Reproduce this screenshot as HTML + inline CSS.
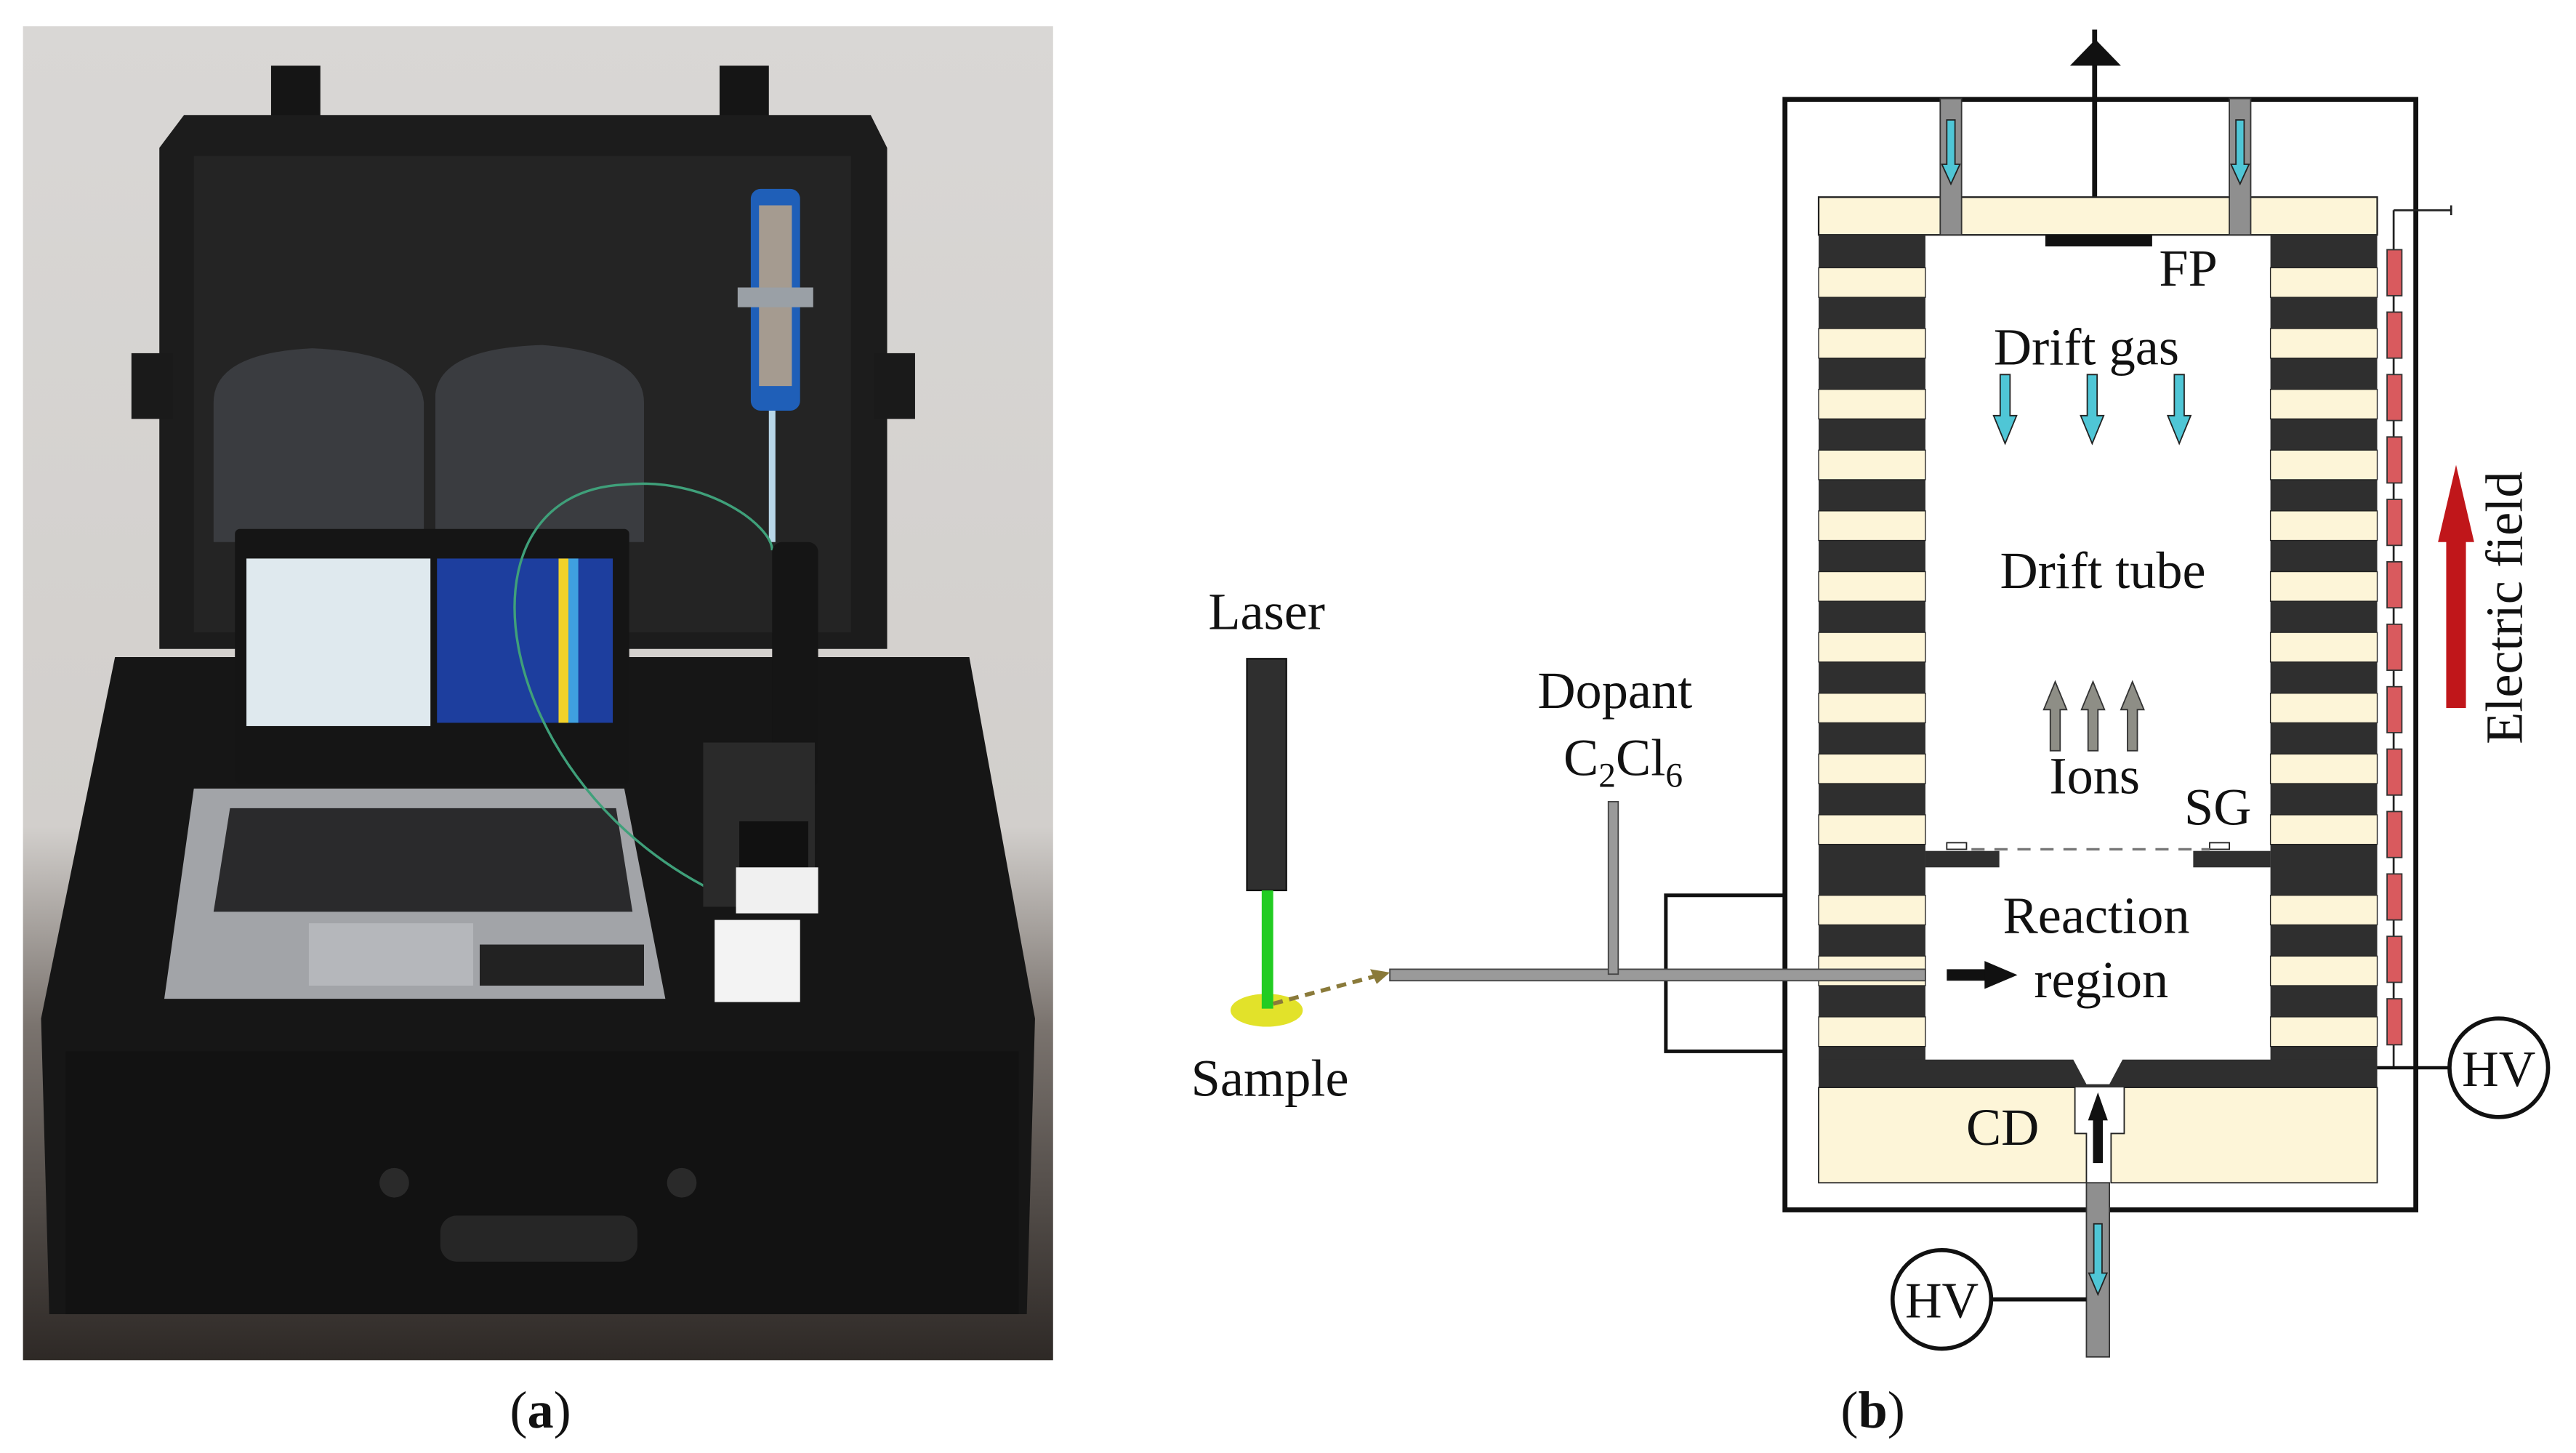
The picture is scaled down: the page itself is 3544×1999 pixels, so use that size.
<!DOCTYPE html>
<html><head><meta charset="utf-8"><style>
html,body{margin:0;padding:0;background:#fff;}
svg{display:block;}
text{font-family:"Liberation Serif",serif;fill:#111;}
</style></head><body>
<svg width="3544" height="1999" viewBox="0 0 1568 884.5" preserveAspectRatio="none" xmlns="http://www.w3.org/2000/svg">
<defs>
<linearGradient id="wall" x1="0" y1="0" x2="0" y2="1">
<stop offset="0" stop-color="#d9d7d5"/><stop offset="0.6" stop-color="#d2cfcc"/><stop offset="0.75" stop-color="#7a736e"/><stop offset="1" stop-color="#2e2926"/>
</linearGradient>
</defs>
<rect x="14" y="16" width="627" height="812" fill="url(#wall)"/>
<rect x="165" y="40" width="30" height="40" fill="#151515"/>
<rect x="438" y="40" width="30" height="40" fill="#151515"/>
<path d="M112 70 L530 70 L540 90 L540 395 L97 395 L97 90 Z" fill="#1c1c1c"/>
<rect x="118" y="95" width="400" height="290" fill="#242424"/>
<rect x="80" y="215" width="25" height="40" fill="#1a1a1a"/>
<rect x="532" y="215" width="25" height="40" fill="#1a1a1a"/>
<path d="M130 245 Q130 215 190 212 Q255 215 258 245 L258 330 L130 330 Z" fill="#3a3c40"/>
<path d="M265 240 Q268 212 330 210 Q392 215 392 245 L392 330 L265 330 Z" fill="#3a3c40"/>
<rect x="457" y="115" width="30" height="135" rx="6" fill="#1f5fb8"/>
<rect x="462" y="125" width="20" height="110" fill="#a59b90"/>
<rect x="449" y="175" width="46" height="12" fill="#9aa0a6"/>
<line x1="470" y1="250" x2="470" y2="330" stroke="#b9d7e8" stroke-width="4"/>
<path d="M70 400 L590 400 L630 620 L625 800 L30 800 L25 620 Z" fill="#161616"/>
<rect x="40" y="640" width="580" height="160" fill="#121212"/>
<rect x="268" y="740" width="120" height="28" rx="10" fill="#262626"/>
<circle cx="240" cy="720" r="9" fill="#2a2a2a"/><circle cx="415" cy="720" r="9" fill="#2a2a2a"/>
<rect x="143" y="322" width="240" height="155" rx="3" fill="#151515"/>
<rect x="150" y="340" width="112" height="102" fill="#dfe9ee"/>
<rect x="266" y="340" width="107" height="100" fill="#1d3e9e"/>
<rect x="340" y="340" width="6" height="100" fill="#f2d22a"/>
<rect x="346" y="340" width="6" height="100" fill="#3fa0e0"/>
<path d="M118 480 L380 480 L405 608 L100 608 Z" fill="#a2a4a8"/>
<path d="M140 492 L375 492 L385 555 L130 555 Z" fill="#2a2a2c"/>
<rect x="188" y="562" width="100" height="38" fill="#b5b7bb"/>
<rect x="292" y="575" width="100" height="25" fill="#222"/>
<path d="M440 545 C300 480 270 300 380 295 C430 290 470 320 470 335" fill="none" stroke="#3fa07a" stroke-width="1.5"/>
<rect x="470" y="330" width="28" height="150" rx="6" fill="#151515"/>
<rect x="428" y="452" width="68" height="100" fill="#2a2a2a"/>
<rect x="450" y="500" width="42" height="40" fill="#111"/>
<rect x="448" y="528" width="50" height="28" fill="#f0f0f0"/>
<rect x="435" y="560" width="52" height="50" fill="#f3f3f3"/>
<text x="329" y="869" font-size="32" text-anchor="middle">(<tspan font-weight="bold">a</tspan>)</text>

<rect x="1086.5" y="60.5" width="384" height="676" fill="none" stroke="#111" stroke-width="3"/>
<line x1="1275" y1="18" x2="1275" y2="143" stroke="#111" stroke-width="3"/>
<polygon points="1260,40 1291,40 1275.5,24" fill="#111"/>
<rect x="1107" y="120" width="340" height="23" fill="#fdf5d8" stroke="#222" stroke-width="1"/>
<rect x="1181" y="60" width="13" height="83" fill="#8f8f8f" stroke="#333" stroke-width="0.8"/>
<rect x="1357" y="60" width="13" height="83" fill="#8f8f8f" stroke="#333" stroke-width="0.8"/>
<g fill="#4fc6d6" stroke="#222" stroke-width="0.8">
<path d="M1185 73 h5 v27 h3 l-5.5 12 l-5.5 -12 h3 z"/>
<path d="M1361 73 h5 v27 h3 l-5.5 12 l-5.5 -12 h3 z"/>
</g>
<rect x="1245" y="143" width="65" height="7" fill="#111"/>
<rect x="1107" y="143" width="65" height="512" fill="#2f2f2f"/>
<rect x="1382" y="143" width="65" height="512" fill="#2f2f2f"/>
<g fill="#fdf5d8" stroke="#222" stroke-width="0.6">
<rect x="1107" y="163" width="65" height="18"/><rect x="1382" y="163" width="65" height="18"/>
<rect x="1107" y="200" width="65" height="18"/><rect x="1382" y="200" width="65" height="18"/>
<rect x="1107" y="237" width="65" height="18"/><rect x="1382" y="237" width="65" height="18"/>
<rect x="1107" y="274" width="65" height="18"/><rect x="1382" y="274" width="65" height="18"/>
<rect x="1107" y="311" width="65" height="18"/><rect x="1382" y="311" width="65" height="18"/>
<rect x="1107" y="348" width="65" height="18"/><rect x="1382" y="348" width="65" height="18"/>
<rect x="1107" y="385" width="65" height="18"/><rect x="1382" y="385" width="65" height="18"/>
<rect x="1107" y="422" width="65" height="18"/><rect x="1382" y="422" width="65" height="18"/>
<rect x="1107" y="459" width="65" height="18"/><rect x="1382" y="459" width="65" height="18"/>
<rect x="1107" y="496" width="65" height="18"/><rect x="1382" y="496" width="65" height="18"/>
<rect x="1107" y="545" width="65" height="18"/><rect x="1382" y="545" width="65" height="18"/>
<rect x="1107" y="582" width="65" height="18"/><rect x="1382" y="582" width="65" height="18"/>
<rect x="1107" y="619" width="65" height="18"/><rect x="1382" y="619" width="65" height="18"/>
</g>
<rect x="1172" y="518" width="45" height="10" fill="#2f2f2f"/>
<rect x="1335" y="518" width="47" height="10" fill="#2f2f2f"/>
<rect x="1185" y="513" width="12" height="4" fill="#fff" stroke="#222" stroke-width="0.8"/>
<rect x="1345" y="513" width="12" height="4" fill="#fff" stroke="#222" stroke-width="0.8"/>
<line x1="1200" y1="517" x2="1345" y2="517" stroke="#777" stroke-width="1.5" stroke-dasharray="8,6"/>
<path d="M1107 645 L1262 645 L1270 660 L1284 660 L1292 645 L1447 645 L1447 662 L1107 662 Z" fill="#2f2f2f"/>
<path d="M1107 662 L1263 662 L1263 690 L1270 690 L1270 720 L1107 720 Z" fill="#fdf5d8" stroke="#222" stroke-width="0.8"/>
<path d="M1447 662 L1293 662 L1293 690 L1285 690 L1285 720 L1447 720 Z" fill="#fdf5d8" stroke="#222" stroke-width="0.8"/>
<rect x="1274" y="680" width="6" height="28" fill="#111"/>
<polygon points="1271,682 1283,682 1277,665" fill="#111"/>
<rect x="1270" y="720" width="14" height="106" fill="#8f8f8f" stroke="#333" stroke-width="0.8"/>
<path d="M1274.5 745 h5 v30 h3 l-5.5 13 l-5.5 -13 h3 z" fill="#4fc6d6" stroke="#222" stroke-width="0.8"/>
<circle cx="1182" cy="791" r="30" fill="#fff" stroke="#111" stroke-width="2.5"/>
<text x="1182" y="802" font-size="31" text-anchor="middle">HV</text>
<line x1="1212" y1="791" x2="1270" y2="791" stroke="#111" stroke-width="2.5"/>
<line x1="1457" y1="128" x2="1457" y2="650" stroke="#222" stroke-width="1.2"/>
<line x1="1457" y1="128" x2="1492" y2="128" stroke="#222" stroke-width="1.2"/>
<line x1="1492" y1="125" x2="1492" y2="131" stroke="#222" stroke-width="1.2"/>
<g fill="#d95a5e" stroke="#333" stroke-width="0.8">
<rect x="1453" y="152" width="9" height="28"/>
<rect x="1453" y="190" width="9" height="28"/>
<rect x="1453" y="228" width="9" height="28"/>
<rect x="1453" y="266" width="9" height="28"/>
<rect x="1453" y="304" width="9" height="28"/>
<rect x="1453" y="342" width="9" height="28"/>
<rect x="1453" y="380" width="9" height="28"/>
<rect x="1453" y="418" width="9" height="28"/>
<rect x="1453" y="456" width="9" height="28"/>
<rect x="1453" y="494" width="9" height="28"/>
<rect x="1453" y="532" width="9" height="28"/>
<rect x="1453" y="570" width="9" height="28"/>
<rect x="1453" y="608" width="9" height="28"/>
</g>
<line x1="1447" y1="650" x2="1491" y2="650" stroke="#111" stroke-width="2"/>
<circle cx="1521" cy="650" r="30" fill="#fff" stroke="#111" stroke-width="2.5"/>
<text x="1521" y="661" font-size="31" text-anchor="middle">HV</text>
<rect x="1489" y="325" width="12" height="106" fill="#c0161a"/>
<polygon points="1484,330 1506,330 1495,283" fill="#c0161a"/>
<text transform="translate(1535,370) rotate(-90)" font-size="32" text-anchor="middle">Electric field</text>
<g fill="#4fc6d6" stroke="#222" stroke-width="0.8">
<path d="M1217.5 228 h6 v25 h4 l-7 17 l-7 -17 h4 z"/>
<path d="M1270.5 228 h6 v25 h4 l-7 17 l-7 -17 h4 z"/>
<path d="M1323.5 228 h6 v25 h4 l-7 17 l-7 -17 h4 z"/>
</g>
<g fill="#8e8e86" stroke="#333" stroke-width="0.8">
<path d="M1248 457 h6 v-25 h4 l-7 -17 l-7 17 h4 z"/>
<path d="M1271 457 h6 v-25 h4 l-7 -17 l-7 17 h4 z"/>
<path d="M1295 457 h6 v-25 h4 l-7 -17 l-7 17 h4 z"/>
</g>
<text x="1332" y="174" font-size="32" text-anchor="middle">FP</text>
<text x="1270" y="222" font-size="32" text-anchor="middle">Drift gas</text>
<text x="1280" y="358" font-size="32" text-anchor="middle">Drift tube</text>
<text x="1275" y="483" font-size="32" text-anchor="middle">Ions</text>
<text x="1350" y="502" font-size="32" text-anchor="middle">SG</text>
<text x="1276" y="568" font-size="32" text-anchor="middle">Reaction</text>
<text x="1279" y="607" font-size="32" text-anchor="middle">region</text>
<text x="1219" y="697" font-size="32" text-anchor="middle">CD</text>
<rect x="1185" y="590" width="24" height="7" fill="#111"/>
<polygon points="1208,585 1228,593.5 1208,602" fill="#111"/>
<polyline points="1086,545 1014,545 1014,640 1086,640" fill="none" stroke="#111" stroke-width="2.2"/>
<rect x="846" y="590" width="326" height="7" fill="#9a9a9a" stroke="#444" stroke-width="0.8"/>
<rect x="979" y="488" width="6" height="105" fill="#9a9a9a" stroke="#444" stroke-width="0.8"/>
<rect x="759" y="401" width="24" height="141" fill="#2f2f2f" stroke="#111" stroke-width="1"/>
<ellipse cx="771" cy="615" rx="22" ry="10" fill="#e2e22a"/>
<rect x="768" y="542" width="7" height="72" fill="#22cc22"/>
<line x1="775" y1="611" x2="838" y2="594" stroke="#8a7a3a" stroke-width="2.5" stroke-dasharray="6,4"/>
<polygon points="846,592 834,590 838,599" fill="#8a7a3a"/>
<text x="771" y="383" font-size="32" text-anchor="middle">Laser</text>
<text x="983" y="431" font-size="32" text-anchor="middle">Dopant</text>
<text x="988" y="472" font-size="32" text-anchor="middle">C<tspan font-size="21" dy="7">2</tspan><tspan dy="-7">Cl</tspan><tspan font-size="21" dy="7">6</tspan></text>
<text x="773" y="667" font-size="32" text-anchor="middle">Sample</text>
<text x="1140" y="869" font-size="32" text-anchor="middle">(<tspan font-weight="bold">b</tspan>)</text>
</svg>
</body></html>
